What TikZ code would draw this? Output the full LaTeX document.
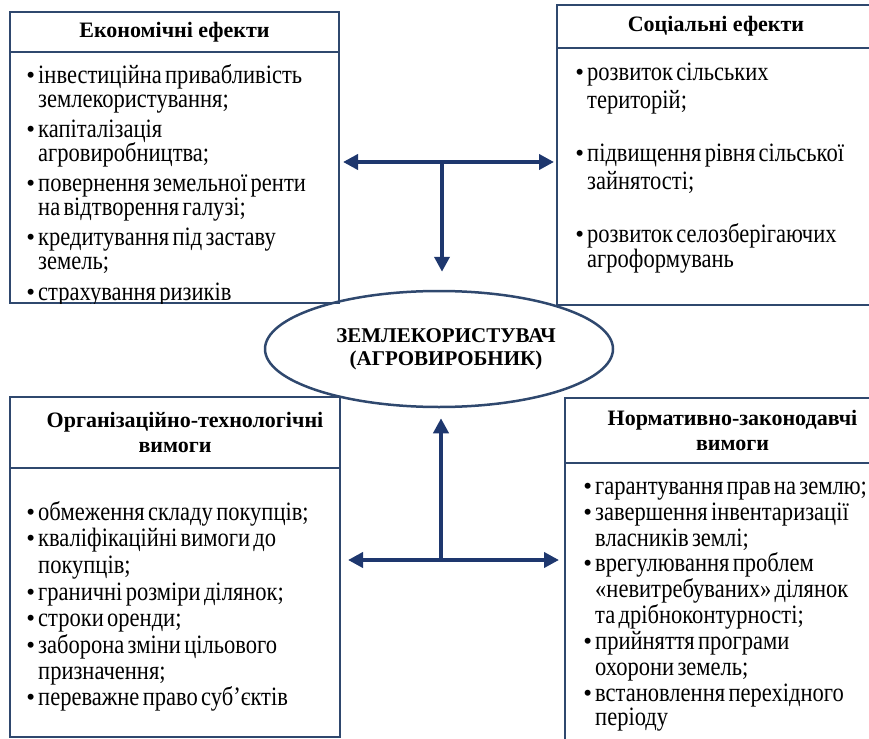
\documentclass[tikz,border=0pt]{standalone}
\usepackage{fontspec}
\setmainfont{Liberation Serif}
\newfontfamily\bodyserif{Liberation Serif}[FakeStretch=0.85]
\usetikzlibrary{shapes.geometric,arrows.meta}
\definecolor{boxline}{RGB}{47,72,110}
\definecolor{arrline}{RGB}{30,55,110}
\newcommand{\bul}{\leavevmode\llap{{\rmfamily\fontsize{25}{0}\selectfont\textbullet}\hspace{3pt}}}
\newcommand{\firstline}{\rule{0pt}{20pt}}
\begin{document}
\begin{tikzpicture}[x=1pt,y=-1pt,
    headbox/.style={draw=boxline, line width=2pt, rectangle, inner sep=0pt, align=center,
      font=\fontsize{22}{25}\selectfont\bfseries},
    bodybox/.style={draw=boxline, line width=2pt, rectangle, inner sep=0pt},
    itemtext/.style={anchor=north west, inner sep=0pt, align=left, text width=#1},
    link/.style={draw=arrline, line width=4pt},
    tip/.style={-{Triangle[length=15pt,width=15pt]}},
    twotip/.style={{Triangle[length=15pt,width=15pt]}-{Triangle[length=15pt,width=15pt]}}]
\useasboundingbox (0,0) rectangle (869,738);
				\node [headbox, minimum width=329, minimum height=40] (econHead) at (174.5,32) {Економічні ефекти};
				\node [bodybox, minimum width=329, minimum height=251] (econBody) at (174.5,177.5) {};
				\node [headbox, minimum width=318, minimum height=43] (socHead) at (716,26.5) {Соціальні ефекти};
				\node [bodybox, minimum width=318, minimum height=257] (socBody) at (716,176.5) {};
				\node [headbox, minimum width=330, minimum height=71] (orgHead) at (175,432.5) {\hspace*{20pt}Організаційно-технологічні\\вимоги};
				\node [bodybox, minimum width=330, minimum height=269] (orgBody) at (175,602.5) {};
				\node [headbox, minimum width=335, minimum height=65] (normHead) at (732.5,430.5) {Нормативно-законодавчі\\вимоги};
				\node [bodybox, minimum width=335, minimum height=282] (normBody) at (732.5,604) {};
				\node [draw=boxline, line width=2.5pt, ellipse, minimum width=348, minimum height=116, align=center,
				  font=\fontsize{21}{23}\selectfont\bfseries] (user) at (439,349) {\hspace*{14pt}ЗЕМЛЕКОРИСТУВАЧ\\\hspace*{14pt}(АГРОВИРОБНИК)};
				%
				\begin{scope}
				\clip ([shift={(1pt,-1pt)}]econBody.north west) rectangle ([shift={(-1pt,1pt)}]econBody.south east);
				\node [itemtext=300pt] (econText) at (38,63) {\bodyserif\fontsize{26.5}{24.5}\selectfont\lineskiplimit=-30pt
				  \firstline\bul інвестиційна привабливість\\
				  землекористування;\\[5pt]
				  \bul капіталізація\\
				  агровиробництва;\\[5pt]
				  \bul повернення земельної ренти\\
				  на відтворення галузі;\\[5pt]
				  \bul кредитування під заставу\\
				  земель;\\[8pt]
				  \bul страхування ризиків};
				\end{scope}
				\node [itemtext=285pt] (socText) at (587,60) {\bodyserif\fontsize{26.5}{28}\selectfont\lineskiplimit=-30pt
				  \firstline\bul розвиток сільських\\
				  територій;\\[25pt]
				  \bul підвищення рівня сільської\\
				  зайнятості;\\[25pt]
				  \bul розвиток селозберігаючих\\
				  агроформувань};
				\node [itemtext=300pt] (orgText) at (38,500) {\bodyserif\fontsize{26.5}{26.6}\selectfont\lineskiplimit=-30pt
				  \firstline\bul обмеження складу покупців;\\
				  \bul кваліфікаційні вимоги до\\
				  покупців;\\
				  \bul граничні розміри ділянок;\\
				  \bul строки оренди;\\
				  \bul заборона зміни цільового\\
				  призначення;\\
				  \bul переважне право суб’єктів};
				\node [itemtext=300pt] (normText) at (595,474) {\bodyserif\fontsize{26.5}{25.9}\selectfont\lineskiplimit=-30pt
				  \firstline\bul гарантування прав на землю;\\
				  \bul завершення інвентаризації\\
				  власників землі;\\
				  \bul врегулювання проблем\\
				  «невитребуваних» ділянок\\
				  та дрібноконтурності;\\
				  \bul прийняття програми\\
				  охорони земель;\\
				  \bul встановлення перехідного\\
				  періоду};
				%
				\coordinate (topJ) at (442,162);
				\coordinate (botJ) at (441,560);
				\draw [link, twotip, shorten <=3pt, shorten >=2pt] (econBody.east |- topJ) -- (socBody.west |- topJ);
				\draw [link, tip] (topJ) -- ([yshift=18pt]user.north -| topJ);
				\draw [link, twotip, shorten <=7pt, shorten >=5pt] (orgBody.east |- botJ) -- (normBody.west |- botJ);
				\draw [link, tip] (botJ) -- ([yshift=-10pt]user.south -| botJ);
\end{tikzpicture}
\end{document}
